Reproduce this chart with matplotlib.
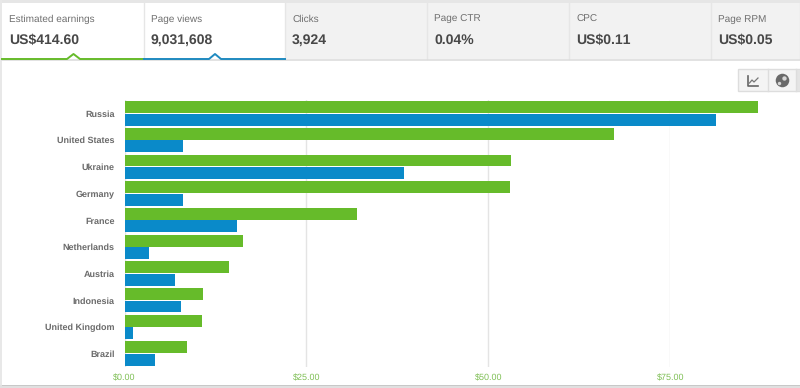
import matplotlib
matplotlib.use('Agg')
import matplotlib.pyplot as plt
from matplotlib.patches import Rectangle

plt.rcParams['font.family'] = ['Liberation Sans', 'DejaVu Sans']
plt.rcParams['text.hinting'] = 'no_hinting'
plt.rcParams['text.hinting_factor'] = 1

countries = ['Russia', 'United States', 'Ukraine', 'Germany', 'France',
             'Netherlands', 'Austria', 'Indonesia', 'United Kingdom', 'Brazil']
earnings = [87.1, 67.3, 53.1, 53.0, 31.9, 16.3, 14.4, 10.8, 10.6, 8.6]
page_views = [81.3, 8.1, 38.4, 8.0, 15.5, 3.3, 6.9, 7.8, 1.1, 4.2]
x_ticks = [0, 25, 50, 75]
x_tick_labels = ['$0.00', '$25.00', '$50.00', '$75.00']

tab_titles = ['Estimated earnings', 'Page views', 'Clicks', 'Page CTR', 'CPC', 'Page RPM']
tab_values = ['US$414.60', '9,031,608', '3,924', '0.04%', 'US$0.11', 'US$0.05']
tab_lefts = [2, 144, 285, 427, 569, 711, 800]

GREEN = '#66bb2a'
BLUE = '#0a8ac9'
W, H = 800, 388

fig = plt.figure(figsize=(W / 100, H / 100), dpi=100, facecolor='white')

# page furniture, in pixel coordinates
bg = fig.add_axes([0, 0, 1, 1])
bg.set_xlim(0, W)
bg.set_ylim(H, 0)
bg.axis('off')

bg.add_patch(Rectangle((0, 0), W, 3, color='#e6e6e6', lw=0))
bg.add_patch(Rectangle((0, 0), 2, H, color='#e8e8e8', lw=0))
bg.add_patch(Rectangle((0, 385), W, 3, color='#e0e0e0', lw=0))
bg.add_patch(Rectangle((2, 385), W, 1, color='#c8c8c8', lw=0))

for i, (title, value) in enumerate(zip(tab_titles, tab_values)):
    left, right = tab_lefts[i], tab_lefts[i + 1]
    face = 'white' if i < 2 else '#f2f2f2'
    bg.add_patch(Rectangle((left, 3), right - left, 56, color=face, lw=0))
    bg.plot([right, right], [3, 59], color='#e6e6e6', lw=1)
    bg.text(left + 7, 22, title, fontsize=7.5, color='#6f6f6f', va='baseline', ha='left')
    bg.text(left + 7, 44.3, value, fontsize=10, color='#484848', va='baseline', ha='left',
            fontweight='bold')

bg.plot([2, W], [59.5, 59.5], color='#dddddd', lw=1.2)
bg.plot([2, 67, 73.5, 80, 144], [59, 59, 54, 59, 59], color=GREEN, lw=1.4)
bg.plot([144, 209, 215, 221, 285], [59, 59, 54, 59, 59], color='#1f8ac0', lw=1.4)

# chart type buttons
bg.add_patch(Rectangle((738, 69), 62, 22, facecolor='#f4f4f4', edgecolor='#dddddd', lw=1))
bg.plot([767.5, 767.5], [69, 91], color='#dddddd', lw=1)
bg.plot([795.5, 795.5], [69, 91], color='#dddddd', lw=1)
bg.add_patch(Rectangle((796, 70), 4, 21, color='#e4e4e4', lw=0))
bg.plot([748, 748, 758], [76, 86, 86], color='#666666', lw=1.2)
bg.plot([749.5, 752, 754, 758], [83, 80, 82, 78], color='#777777', lw=0.9)
bg.scatter([781.5], [80], s=95, color='#6a6a6a', lw=0)
bg.scatter([783.5], [78], s=10, color='#d8d8d8', lw=0)
bg.scatter([778.5], [83], s=6, color='#d8d8d8', lw=0)

# bar chart
ax_left, ax_right, ax_top, ax_bottom = 124.5, 670.4, 100, 367
ax = fig.add_axes([ax_left / W, 1 - ax_bottom / H, (ax_right - ax_left) / W,
                   (ax_bottom - ax_top) / H])
ax.patch.set_alpha(0)
ypos = list(range(len(countries)))
ax.barh([y - 0.235 for y in ypos], earnings, height=0.445, color=GREEN, zorder=3)
ax.barh([y + 0.235 for y in ypos], page_views, height=0.445, color=BLUE, zorder=3)
ax.set_xlim(0, 75)
ax.set_ylim(9.5, -0.5)
ax.set_xticks(x_ticks)
ax.set_xticklabels(x_tick_labels, fontsize=6.4, color='#7fbf55')
ax.set_yticks(ypos)
ax.set_yticklabels(countries, fontsize=6.6, color='#6a6a6a', fontweight='bold')
ax.tick_params(axis='both', length=0)
ax.tick_params(axis='x', pad=5)
ax.tick_params(axis='y', pad=7)
ax.grid(axis='x', color='#e4e4e4', lw=1, zorder=1)
ax.set_axisbelow(True)
for side in ax.spines:
    ax.spines[side].set_visible(False)
# Russia and the rest run past the last gridline
for bar in ax.patches:
    bar.set_clip_on(False)

fig.savefig('out.png', dpi=100)
